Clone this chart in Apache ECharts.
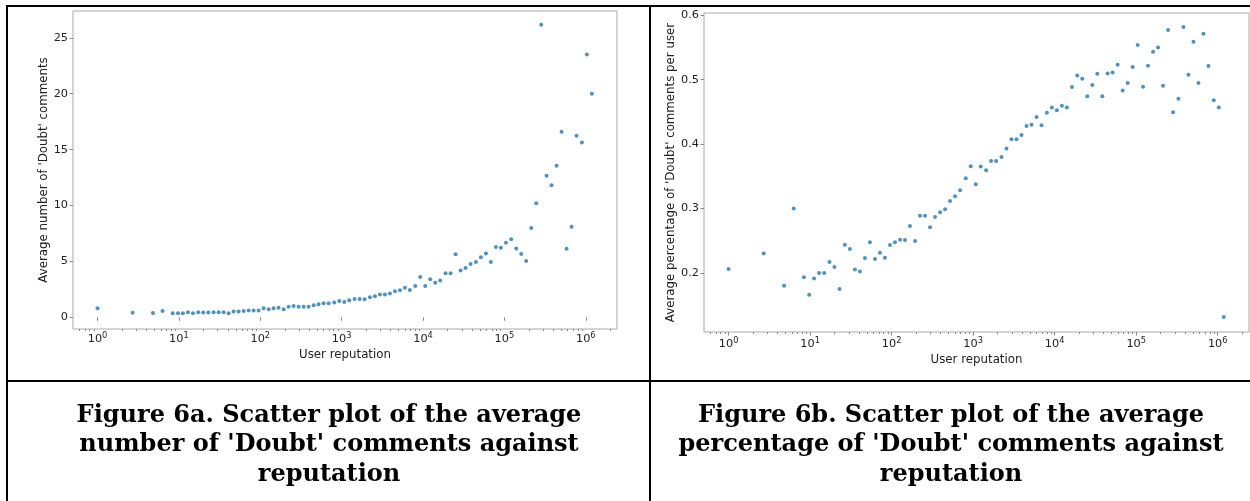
<!DOCTYPE html>
<html><head><meta charset="utf-8">
<script src="https://cdn.jsdelivr.net/npm/echarts@6/dist/echarts.min.js"></script>
<style>html,body{margin:0;padding:0;background:#fff}#c{width:1250px;height:501px}</style>
</head><body><div id="c"></div>
<script>
// ---- data ----
const reputation = [1, 2.7, 4.8, 6.3,
  8.4, 9.75, 11.2, 12.9, 14.9, 17.3, 19.9, 23.0, 26.7, 30.8,
  35.5, 40.9, 47.1, 54.2, 62.5, 72.0, 82.9, 95.5, 110, 127,
  146, 168, 194, 223, 257, 296, 341, 393, 453, 521,
  600, 692,
  812, 935, 1077, 1241, 1443, 1663, 1915, 2227, 2566, 2955,
  3404, 3920, 4517, 5202, 5993, 6902, 8026, 9247, 10652, 12270,
  14130, 16280, 18930, 21820, 25120, 28950, 33340, 38410, 44670, 51440,
  59250, 68230, 78630, 90570, 104300, 121400, 139800, 161000, 185400, 213600,
  246000, 283500, 329600, 379800, 437500, 504100, 580700, 668800, 770000, 895400,
  1031000, 1189000];

const avgDoubtCount = [0.80, 0.41, 0.38, 0.56,
  0.36, 0.36, 0.36, 0.45, 0.36, 0.45, 0.42, 0.42, 0.45, 0.45,
  0.45, 0.36, 0.51, 0.51, 0.57, 0.60, 0.60, 0.60, 0.80, 0.72,
  0.80, 0.86, 0.72, 0.95, 1.01, 0.95, 0.95, 0.95, 1.07, 1.16,
  1.25, 1.25,
  1.31, 1.46, 1.37, 1.52, 1.64, 1.64, 1.61, 1.79, 1.87, 2.03,
  2.03, 2.12, 2.33, 2.42, 2.65, 2.44, 2.80, 3.60, 2.80, 3.39,
  3.09, 3.30, 3.93, 3.93, 5.63, 4.19, 4.40, 4.76, 4.94, 5.36,
  5.71, 4.94, 6.28, 6.22, 6.67, 6.97, 6.16, 5.66, 5.03, 7.98,
  10.19, 26.16, 12.65, 11.82, 13.55, 16.59, 6.13, 8.10, 16.23, 15.64,
  23.5, 20.0];

const avgDoubtPct = [0.206, 0.230, 0.180, 0.300,
  0.193, 0.166, 0.191, 0.1995, 0.1995, 0.2167, 0.209, 0.175, 0.2436, 0.2369,
  0.2053, 0.2022, 0.2229, 0.2473, 0.2213, 0.2311, 0.2234, 0.2431, 0.2473, 0.2514,
  0.2509, 0.2727, 0.2493, 0.2887, 0.2887, 0.2706, 0.2867, 0.294, 0.2987, 0.3116,
  0.3189,
  0.3282, 0.3469, 0.3656, 0.3376, 0.3651, 0.3594, 0.3739, 0.3739, 0.3801, 0.393,
  0.4076, 0.4076, 0.4143, 0.4283, 0.4299, 0.4419, 0.4294, 0.4486, 0.4568, 0.4527,
  0.4594, 0.4568, 0.4886, 0.5066, 0.5015, 0.4745, 0.4917, 0.5093, 0.4745, 0.5098,
  0.5113, 0.5233, 0.4833, 0.4948, 0.5196, 0.5539, 0.489, 0.5217, 0.5435, 0.5502,
  0.4906, 0.5773, 0.4496, 0.4703, 0.5820, 0.5077, 0.5591, 0.4948, 0.5715, 0.5212,
  0.4682, 0.4568, 0.1315];

const xMajorTicks = [1, 10, 100, 1000, 10000, 100000, 1000000];
const minorMultipliers = [2, 3, 4, 5, 6, 7, 8, 9];
const yTicksCount = [0, 5, 10, 15, 20, 25];
const yTicksPct = [0.2, 0.3, 0.4, 0.5, 0.6];

const captionA = "Figure 6a. Scatter plot of the average\nnumber of 'Doubt' comments against\nreputation";
const captionB = "Figure 6b. Scatter plot of the average\npercentage of 'Doubt' comments against\nreputation";
const xName = 'User reputation';
const yNameA = "Average number of 'Doubt' comments";
const yNameB = "Average percentage of 'Doubt' comments per user";

// ---- build ----
const X_MIN = 0.5, X_MAX = 2.42e6;
const xMinorTicks = [];
[0.1].concat(xMajorTicks).forEach(p => minorMultipliers.forEach(m => {
  const v = p * m;
  if (v > X_MIN && v < X_MAX) xMinorTicks.push(v);
}));

const FONT = 'DejaVu Sans';
const TXT = '#222';
const TICK = '#8a8a8a';
const NAME_SIZE = 11.8;
const LABEL_SIZE = 11.3;

function xAxes(gridIndex, nameGap, margin) {
  return [{
    type: 'log', logBase: 10, gridIndex, min: X_MIN, max: X_MAX, position: 'bottom',
    name: xName, nameLocation: 'middle', nameGap,
    nameTextStyle: {fontFamily: FONT, fontSize: NAME_SIZE, color: TXT},
    axisLine: {show: false}, splitLine: {show: false},
    axisTick: {show: true, customValues: xMajorTicks, length: 3.5, lineStyle: {color: TICK, width: 1}},
    axisLabel: {
      customValues: xMajorTicks, margin,
      formatter: v => '{b|10}{s|' + Math.round(Math.log10(v)) + '}',
      rich: {
        b: {fontFamily: FONT, fontSize: LABEL_SIZE, lineHeight: 14, color: TXT},
        s: {fontFamily: FONT, fontSize: 8.2, lineHeight: 8, verticalAlign: 'top', color: TXT}
      }
    }
  }, {
    type: 'log', logBase: 10, gridIndex, min: X_MIN, max: X_MAX, position: 'bottom',
    axisLine: {show: false}, splitLine: {show: false}, axisLabel: {show: false},
    axisTick: {show: true, customValues: xMinorTicks, length: 2, lineStyle: {color: TICK, width: 1}}
  }];
}

function yAxis(gridIndex, min, max, ticks, name, nameGap, fmt) {
  return {
    type: 'value', gridIndex, min, max, name, nameLocation: 'middle', nameGap,
    nameTextStyle: {fontFamily: FONT, fontSize: NAME_SIZE, color: TXT},
    axisLine: {show: false}, splitLine: {show: false},
    axisTick: {show: true, customValues: ticks, length: 3.5, lineStyle: {color: TICK, width: 1}},
    axisLabel: {customValues: ticks, margin: 5, fontFamily: FONT, fontSize: LABEL_SIZE, color: TXT, formatter: fmt}
  };
}

const option = {
  animation: false,
  backgroundColor: '#fff',
  grid: [
    {left: 73, top: 11, right: 633, bottom: 172, show: true, borderColor: '#a8a8a8', borderWidth: 1},
    {left: 704, top: 13, right: 1, bottom: 169, show: true, borderColor: '#a8a8a8', borderWidth: 1}
  ],
  xAxis: [].concat(xAxes(0, 16.5, 3), xAxes(1, 17.5, 5)),
  yAxis: [
    yAxis(0, -1.05, 27.4, yTicksCount, yNameA, 21, v => String(v)),
    yAxis(1, 0.108, 0.6037, yTicksPct, yNameB, 25, v => v.toFixed(1))
  ],
  series: [
    {type: 'scatter', xAxisIndex: 0, yAxisIndex: 0, symbolSize: 4,
     itemStyle: {color: '#1f77b4'}, data: reputation.map((r, i) => [r, avgDoubtCount[i]])},
    {type: 'scatter', xAxisIndex: 2, yAxisIndex: 1, symbolSize: 4,
     itemStyle: {color: '#1f77b4'}, data: reputation.map((r, i) => [r, avgDoubtPct[i]])}
  ],
  graphic: [
    {type: 'rect', shape: {x: 6, y: 5, width: 1244, height: 2}, style: {fill: '#000'}},
    {type: 'rect', shape: {x: 6, y: 5, width: 2, height: 496}, style: {fill: '#000'}},
    {type: 'rect', shape: {x: 649, y: 5, width: 2, height: 496}, style: {fill: '#000'}},
    {type: 'rect', shape: {x: 6, y: 380, width: 1244, height: 2}, style: {fill: '#000'}},
    {type: 'text', x: 329, y: 445, style: {text: captionA, font: 'bold 24px "DejaVu Serif"', fill: '#000',
      align: 'center', verticalAlign: 'middle', lineHeight: 29.5}},
    {type: 'text', x: 951, y: 445, style: {text: captionB, font: 'bold 24px "DejaVu Serif"', fill: '#000',
      align: 'center', verticalAlign: 'middle', lineHeight: 29.5}}
  ]
};
const chart = echarts.init(document.getElementById('c'));
chart.setOption(option);
</script>
</body></html>
